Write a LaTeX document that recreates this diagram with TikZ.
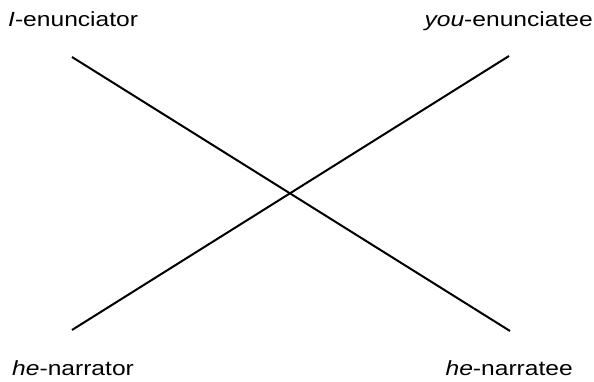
\documentclass[tikz,border=0pt]{standalone}
\usepackage{fontspec}
\setmainfont[FakeStretch=1.2]{Liberation Sans}
\usepackage{xcolor}
\usepackage{tikz}

\begin{document}
\begin{tikzpicture}[x=1pt,y=-1pt]
  \useasboundingbox (0,0) rectangle (594,382) ;
  \tikzset{role/.style={anchor=base west,inner sep=0pt,font=\fontsize{20.5}{23}\selectfont}}
  %
  \node[role] (enunciator) at (8,27) {\textit{I}-enunciator} ;
  \node[role,anchor=base east] (enunciatee) at (593,27) {\textit{you}-enunciatee} ;
  \node[role] (narrator) at (12,375) {\textit{he}-narrator} ;
  \node[role,anchor=base east] (narratee) at (573,375) {\textit{he}-narratee} ;
  %
  \coordinate (tl) at (72,57) ;
  \coordinate (br) at (510,331) ;
  \coordinate (bl) at (72,330) ;
  \coordinate (tr) at (509,56) ;
  %
  \draw[line width=2pt] (tl) -- (br) ;
  \draw[line width=2pt] (bl) -- (tr) ;
\end{tikzpicture}
\end{document}
